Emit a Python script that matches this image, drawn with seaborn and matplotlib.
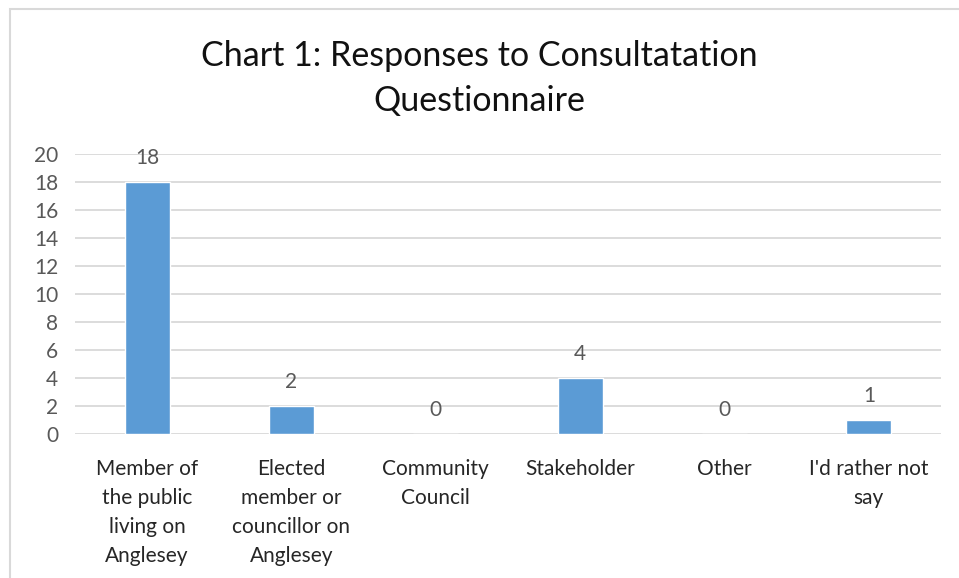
import matplotlib
matplotlib.use("Agg")
import matplotlib.pyplot as plt
import seaborn as sns
from matplotlib.patches import Rectangle

# ── DATA ───────────────────────────────────────────────────
categories = [
    "Member of\nthe public\nliving on\nAnglesey",
    "Elected\nmember or\ncouncillor on\nAnglesey",
    "Community\nCouncil",
    "Stakeholder",
    "Other",
    "I'd rather not\nsay",
]
responses = [18, 2, 0, 4, 0, 1]
y_ticks = list(range(0, 21, 2))
title = "Chart 1: Responses to Consultatation\nQuestionnaire"

BAR_COLOR = "#5b9bd5"
TEXT_COLOR = "#595959"
GRID_COLOR = "#d9d9d9"

sns.set_theme(style="white")
plt.rcParams["font.family"] = ["Lato", "DejaVu Sans"]

fig = plt.figure(figsize=(9.59, 5.78), dpi=100)
ax = fig.add_axes([75 / 959, 1 - 434 / 578, (941 - 75) / 959, (434 - 154) / 578])

sns.barplot(x=categories, y=responses, color=BAR_COLOR, width=0.31,
            saturation=1, ax=ax, zorder=3)

ax.set_ylim(0, 20)
ax.set_yticks(y_ticks)
ax.set_xlim(-0.5, len(categories) - 0.5)
ax.yaxis.grid(True, color=GRID_COLOR, linewidth=1.3, zorder=0)
ax.xaxis.grid(False)
for s in ax.spines.values():
    s.set_visible(False)

ax.tick_params(axis="y", labelsize=15, labelcolor=TEXT_COLOR, length=0, pad=12)
ax.tick_params(axis="x", labelsize=15, labelcolor="#262626", length=0, pad=18)
for lbl in ax.get_xticklabels():
    lbl.set_linespacing(1.56)
    lbl.set_verticalalignment("top")

ax.bar_label(ax.containers[0], labels=[str(v) for v in responses],
             padding=10, fontsize=15, color=TEXT_COLOR)

fig.text(0.5, 1 - 78 / 578, title, ha="center", va="center",
         fontsize=24.5, color="#111111", linespacing=1.5)

# chart border
fig.patches.append(Rectangle((10 / 959, -0.01), 1.0, 1 - 9 / 578 + 0.01,
                             transform=fig.transFigure, fill=False,
                             edgecolor="#d9d9d9", linewidth=1.5))

plt.savefig("out.png", dpi=100)
